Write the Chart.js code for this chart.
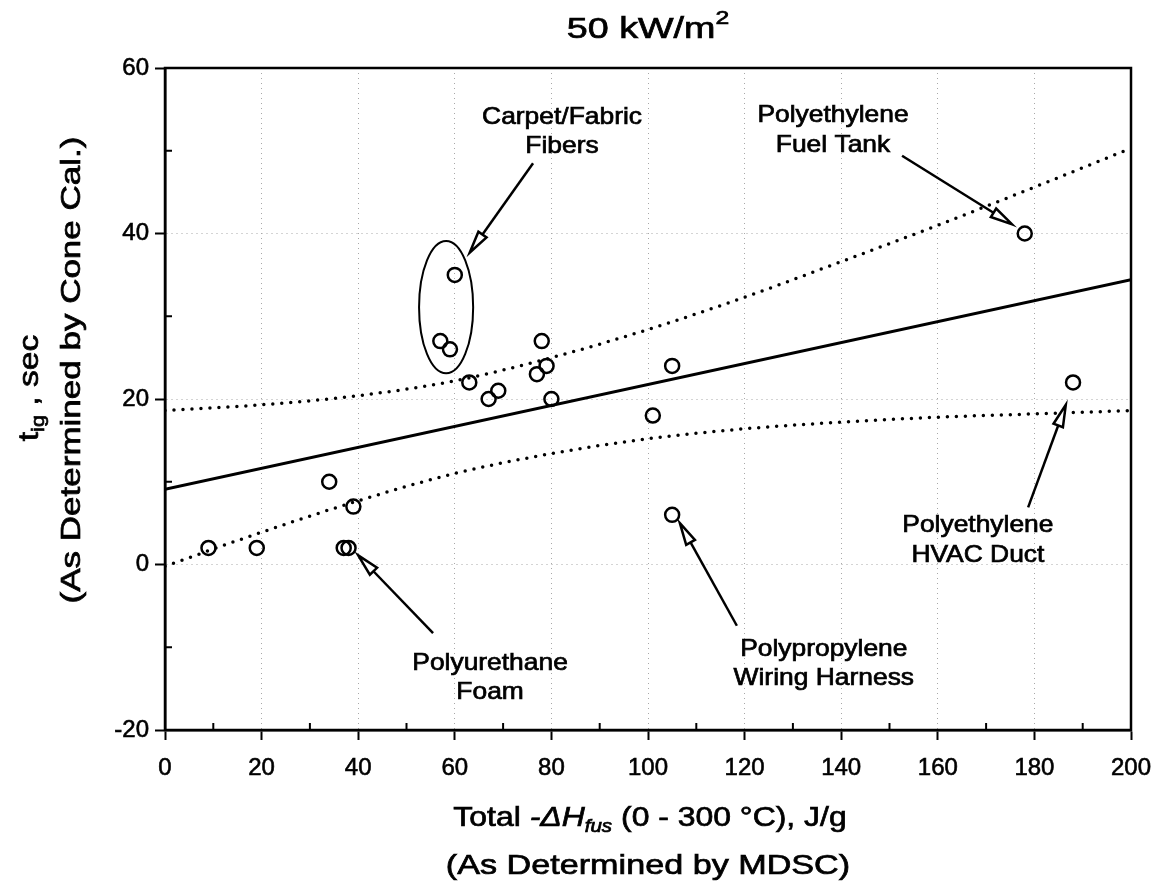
<!DOCTYPE html>
<html>
<head>
<meta charset="utf-8">
<script src="https://cdn.jsdelivr.net/npm/chart.js@4.4.1/dist/chart.umd.min.js"></script>
<style>
  html, body { margin: 0; padding: 0; background: #fff; }
</style>
</head>
<body>
<canvas id="chart" width="1161" height="885"></canvas>
<script>
// Data
const xTickValues = [0, 20, 40, 60, 80, 100, 120, 140, 160, 180, 200];
const yTickValues = [-20, 0, 20, 40, 60];

// measured samples: heat of fusion (J/g) vs time to ignition (s)
const heatFus = [9, 19, 34, 37, 38, 39, 57, 59, 60, 63, 67, 69, 77, 78, 79, 80, 101, 105, 105, 178, 188];
const tIgn    = [2, 2, 10, 2, 2, 7, 27, 26, 35, 22, 20, 21, 23, 27, 24, 20, 18, 24, 6, 40, 22];

// regression line
const fitX = [0, 200];
const fitY = [9.1, 34.4];

// confidence band (dotted curves)
const bandX     = [0, 20, 40, 60, 80, 100, 120, 140, 160, 180, 200];
const bandUpper = [18.6, 19.3, 20.4, 22.2, 25.0, 28.4, 32.3, 36.6, 41.0, 45.6, 50.3];
const bandLower = [-0.2, 3.9, 7.7, 11.0, 13.4, 15.2, 16.4, 17.2, 17.8, 18.2, 18.6];

const FONT = '"Liberation Sans", Arial, Helvetica, sans-serif';

const toXY = (xs, ys) => xs.map((x, i) => ({ x: x, y: ys[i] }));

// annotation labels, placed in data units
const notes = [
  { lines: ['Carpet/Fabric', 'Fibers'], x: 82.2, y: [54.0, 50.5], from: [76.2, 48.5], to: [63.1, 37.7] },
  { lines: ['Polyethylene', 'Fuel Tank'], x: 138.3, y: [54.3, 50.6], from: [152.6, 49.4], to: [175.4, 41.1] },
  { lines: ['Polyethylene', 'HVAC Duct'], x: 168.3, y: [4.7, 1.1], from: [178.7, 6.9], to: [186.5, 19.3] },
  { lines: ['Polypropylene', 'Wiring Harness'], x: 136.4, y: [-10.2, -13.8], from: [118.4, -7.4], to: [106.6, 5.0] },
  { lines: ['Polyurethane', 'Foam'], x: 67.3, y: [-12.0, -15.5], from: [55.5, -8.3], to: [40.0, 1.1] }
];

function runFont(r, size) {
  const s = (r.sub || r.sup) ? Math.round(size * 0.66) : size;
  return (r.italic ? 'italic ' : '') + s + 'px ' + FONT;
}

// draw a line of text made of runs (for sub/superscripts), centred at cx, cy
function richText(ctx, runs, size, stretch, cx, cy, angle) {
  ctx.save();
  ctx.translate(cx, cy);
  ctx.rotate(angle || 0);
  ctx.scale(stretch, 1);
  ctx.textBaseline = 'middle';
  ctx.textAlign = 'left';
  ctx.fillStyle = '#000';
  ctx.strokeStyle = '#000';
  ctx.lineWidth = 0.7;
  const widths = runs.map(r => { ctx.font = runFont(r, size); return ctx.measureText(r.t).width; });
  const total = widths.reduce((a, b) => a + b, 0);
  let x = -total / 2;
  runs.forEach((r, i) => {
    ctx.font = runFont(r, size);
    const dy = r.sub ? size * 0.32 : (r.sup ? -size * 0.38 : 0);
    ctx.fillText(r.t, x, dy);
    ctx.strokeText(r.t, x, dy);
    x += widths[i];
  });
  ctx.restore();
}

function arrow(ctx, x1, y1, x2, y2) {
  const ang = Math.atan2(y2 - y1, x2 - x1);
  const len = 22, half = 5;
  const bx = x2 - len * Math.cos(ang), by = y2 - len * Math.sin(ang);
  ctx.beginPath();
  ctx.moveTo(x1, y1);
  ctx.lineTo(bx, by);
  ctx.stroke();
  const px = -Math.sin(ang) * half, py = Math.cos(ang) * half;
  ctx.beginPath();
  ctx.moveTo(x2, y2);
  ctx.lineTo(bx + px, by + py);
  ctx.lineTo(bx - px, by - py);
  ctx.closePath();
  ctx.fillStyle = '#fff';
  ctx.fill();
  ctx.stroke();
}

const decorations = {
  id: 'decorations',
  afterDraw(chart) {
    const ctx = chart.ctx;
    const area = chart.chartArea;
    const xs = chart.scales.x, ys = chart.scales.y;

    ctx.save();
    ctx.strokeStyle = '#000';
    ctx.lineWidth = 2.5;
    ctx.strokeRect(area.left, area.top, area.right - area.left, area.bottom - area.top);

    // minor ticks pointing inward
    ctx.lineWidth = 2;
    for (let v = 10; v < 200; v += 20) {
      const px = xs.getPixelForValue(v);
      ctx.beginPath(); ctx.moveTo(px, area.bottom); ctx.lineTo(px, area.bottom - 7); ctx.stroke();
    }
    for (let v = -10; v < 60; v += 20) {
      const py = ys.getPixelForValue(v);
      ctx.beginPath(); ctx.moveTo(area.left, py); ctx.lineTo(area.left + 7, py); ctx.stroke();
    }

    // title and axis titles
    const mid = (area.left + area.right) / 2;
    richText(ctx, [{ t: '50 kW/m' }, { t: '2', sup: true }], 29, 1.3, mid, 30);
    richText(ctx, [{ t: 'Total ' }, { t: '-\u0394H', italic: true }, { t: 'fus', italic: true, sub: true }, { t: ' (0 - 300 \u00B0C), J/g' }],
      28, 1.14, mid + 2, 818);
    richText(ctx, [{ t: '(As Determined by MDSC)' }], 28, 1.22, mid, 866);
    richText(ctx, [{ t: 't' }, { t: 'ig', sub: true }, { t: ' , sec' }], 28, 1.2, 30, 388, -Math.PI / 2);
    richText(ctx, [{ t: '(As Determined by Cone Cal.)' }], 28, 1.25, 72, 370, -Math.PI / 2);

    // annotations
    notes.forEach(n => {
      n.lines.forEach((s, i) => {
        richText(ctx, [{ t: s }], 24, 1.1, xs.getPixelForValue(n.x), ys.getPixelForValue(n.y[i]));
      });
      ctx.strokeStyle = '#000';
      ctx.lineWidth = 2.5;
      arrow(ctx, xs.getPixelForValue(n.from[0]), ys.getPixelForValue(n.from[1]),
        xs.getPixelForValue(n.to[0]), ys.getPixelForValue(n.to[1]));
    });

    // ellipse around the carpet/fabric group
    const cx = xs.getPixelForValue(58.2), cy = ys.getPixelForValue(31.1);
    const rx = xs.getPixelForValue(58.2 + 5.6) - cx, ry = cy - ys.getPixelForValue(31.1 + 8.0);
    ctx.lineWidth = 2;
    ctx.beginPath();
    ctx.ellipse(cx, cy, rx, ry, 0, 0, Math.PI * 2);
    ctx.stroke();
    ctx.restore();
  }
};

const tickFont = { family: FONT, size: 24 };

const ctx = document.getElementById('chart').getContext('2d');
new Chart(ctx, {
  type: 'scatter',
  data: {
    datasets: [
      {
        data: toXY(bandX, bandUpper), showLine: true, borderColor: '#000', borderWidth: 3.5,
        borderDash: [0, 9], borderCapStyle: 'round', pointRadius: 0, cubicInterpolationMode: 'monotone'
      },
      {
        data: toXY(bandX, bandLower), showLine: true, borderColor: '#000', borderWidth: 3.5,
        borderDash: [0, 9], borderCapStyle: 'round', pointRadius: 0, cubicInterpolationMode: 'monotone'
      },
      {
        data: toXY(fitX, fitY), showLine: true, borderColor: '#000', borderWidth: 3, pointRadius: 0
      },
      {
        data: toXY(heatFus, tIgn), showLine: false, pointRadius: 7, pointBorderWidth: 2.5,
        pointBackgroundColor: 'rgba(255,255,255,0)', pointBorderColor: '#000'
      }
    ]
  },
  options: {
    responsive: false,
    animation: false,
    devicePixelRatio: 1,
    layout: { padding: { top: 68, right: 30, left: 0, bottom: 0 } },
    plugins: { legend: { display: false }, tooltip: { enabled: false }, title: { display: false } },
    scales: {
      x: {
        type: 'linear', min: 0, max: 200,
        afterBuildTicks: s => { s.ticks = xTickValues.map(v => ({ value: v })); },
        afterFit: s => { s.height = 155; s.paddingLeft = 0; s.paddingRight = 0; },
        ticks: { font: tickFont, color: '#000', padding: 14, maxRotation: 0, textStrokeColor: '#000', textStrokeWidth: 0.6 },
        grid: { color: '#a8a8a8', lineWidth: 1, tickColor: '#000', tickWidth: 2, tickLength: 10 },
        border: { color: '#000', width: 2.5, dash: [1, 4] }
      },
      y: {
        type: 'linear', min: -20, max: 60,
        afterBuildTicks: s => { s.ticks = yTickValues.map(v => ({ value: v })); },
        afterFit: s => { s.width = 165; s.paddingTop = 0; s.paddingBottom = 0; },
        ticks: { font: tickFont, color: '#000', padding: 6, textStrokeColor: '#000', textStrokeWidth: 0.6 },
        grid: { color: '#a8a8a8', lineWidth: 1, tickColor: '#000', tickWidth: 2, tickLength: 10 },
        border: { color: '#000', width: 2.5, dash: [1, 4] }
      }
    }
  },
  plugins: [decorations]
});
</script>
</body>
</html>
